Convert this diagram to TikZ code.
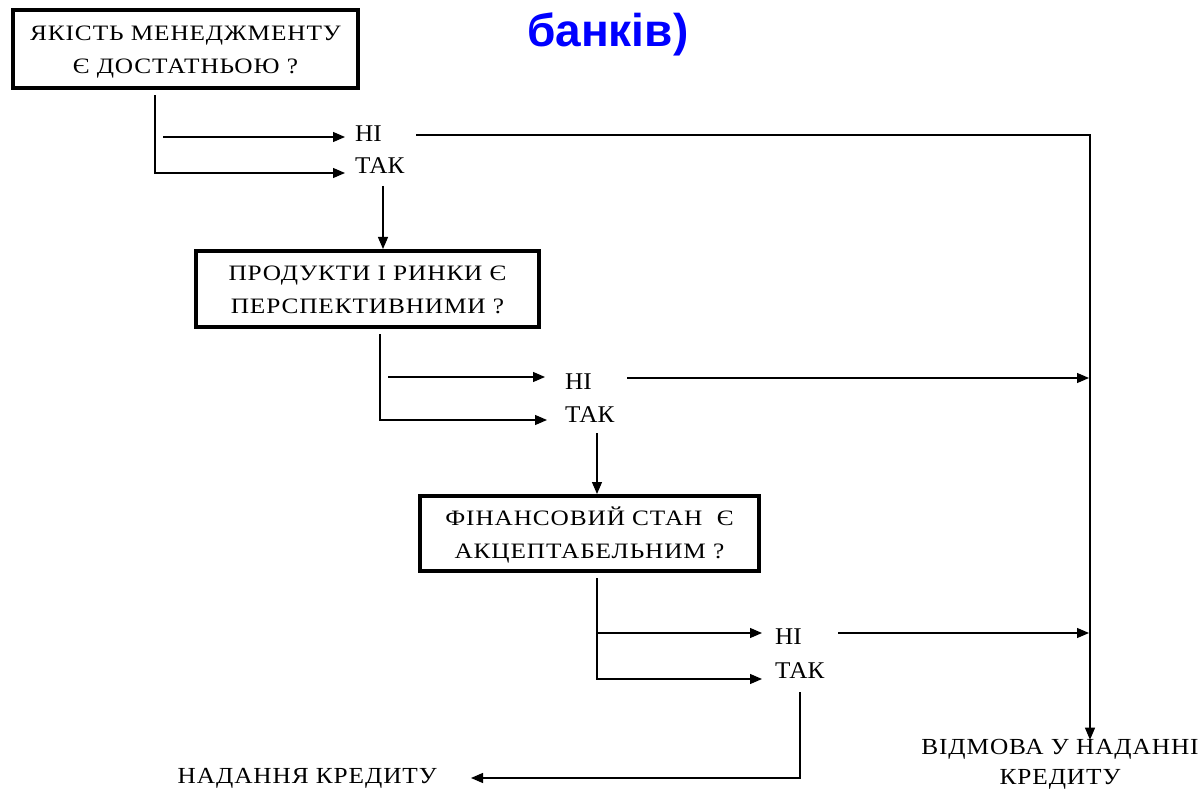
\documentclass[tikz,border=0pt]{standalone}
\usepackage{fontspec}
\setmainfont{Liberation Serif}
\newfontfamily\qfont[FakeStretch=1.15,LetterSpace=4]{Liberation Serif}
\newfontfamily\outfont[FakeStretch=1.1,LetterSpace=4]{Liberation Serif}
\newfontfamily\ansfont[FakeStretch=1.05]{Liberation Serif}
\newfontfamily\headfont{Liberation Sans}
\usetikzlibrary{arrows.meta}
\definecolor{headblue}{RGB}{0,0,255}

\begin{document}
\begin{tikzpicture}[x=1pt,y=-1pt,
  qbox/.style={draw, line width=4pt, inner sep=0pt, align=center,
    text height=52pt, text depth=2pt,
    font=\qfont\fontsize{22}{33}\selectfont},
  answer/.style={anchor=base west, inner sep=0pt, font=\ansfont\fontsize{24}{28}\selectfont},
  outcome/.style={inner sep=0pt, align=center, font=\outfont\fontsize{23}{30}\selectfont},
  conn/.style={line width=1.2pt, line cap=rect},
  arr/.style={line width=1.2pt, -{Triangle[length=12pt,width=10pt]}},
]
\useasboundingbox (0,0) rectangle (1202,791);

% heading fragment
\node[anchor=base west, inner sep=0pt, text=headblue,
      font=\headfont\bfseries\fontsize{46}{50}\selectfont] (head) at (527,47) {банків)};

% question boxes
\node[qbox, minimum width=345pt, minimum height=78pt] (q1) at (185.5,49)
  {ЯКІСТЬ МЕНЕДЖМЕНТУ\\Є ДОСТАТНЬОЮ ?};
\node[qbox, minimum width=343pt, minimum height=76pt] (q2) at (367.5,289)
  {ПРОДУКТИ І РИНКИ Є\\ПЕРСПЕКТИВНИМИ ?};
\node[qbox, minimum width=339pt, minimum height=75pt] (q3) at (589.5,533.5)
  {ФІНАНСОВИЙ СТАН~ Є\\АКЦЕПТАБЕЛЬНИМ ?};

% answer labels
\node[answer] (no1)  at (355,142) {НІ};
\node[answer] (yes1) at (355,174) {ТАК};
\node[answer] (no2)  at (565,390) {НІ};
\node[answer] (yes2) at (565,422) {ТАК};
\node[answer] (no3)  at (775,644) {НІ};
\node[answer] (yes3) at (775,678) {ТАК};

% outcomes
\node[outcome, anchor=east] (grant) at (437,778) {НАДАННЯ КРЕДИТУ};
\node[outcome] (refuse) at (1060,764) {ВІДМОВА У НАДАННІ\\КРЕДИТУ};

% branch points
\coordinate (s1) at (155,96);
\coordinate (s1n) at (163,137);
\coordinate (a1n) at (345,137);
\coordinate (a1y) at (345,173);
\coordinate (r1) at (417,135);
\coordinate (rc) at (1090,135);
\coordinate (d1) at (383,186);

\coordinate (s2) at (380,335);
\coordinate (s2n) at (388,377);
\coordinate (a2n) at (545,377);
\coordinate (a2y) at (547,420);
\coordinate (r2) at (627,378);
\coordinate (d2) at (597,433);

\coordinate (s3) at (597,579);
\coordinate (a3n) at (762,633);
\coordinate (a3y) at (762,679);
\coordinate (r3) at (838,633);
\coordinate (d3) at (800,692);

% stage 1
\draw[conn] (s1) -- (s1 |- a1y);
\draw[arr] (s1 |- a1y) -- (a1y);
\draw[arr] (s1n) -- (a1n);
\draw[conn] (r1) -- (rc);
\draw[arr] (rc) -- ([yshift=-1pt]refuse.north -| rc);
\draw[arr] (d1) -- (q2.north -| d1);

% stage 2
\draw[conn] (s2) -- (s2 |- a2y);
\draw[arr] (s2 |- a2y) -- (a2y);
\draw[arr] (s2n) -- (a2n);
\draw[arr] (r2) -- ([xshift=-1pt]rc |- r2);
\draw[arr] (d2) -- (q3.north -| d2);

% stage 3
\draw[conn] (s3) -- (s3 |- a3y);
\draw[arr] (s3 |- a3y) -- (a3y);
\draw[arr] (s3 |- a3n) -- (a3n);
\draw[arr] (r3) -- ([xshift=-1pt]rc |- r3);
\draw[arr] (d3) |- ([xshift=34pt]grant.east);
\end{tikzpicture}
\end{document}
